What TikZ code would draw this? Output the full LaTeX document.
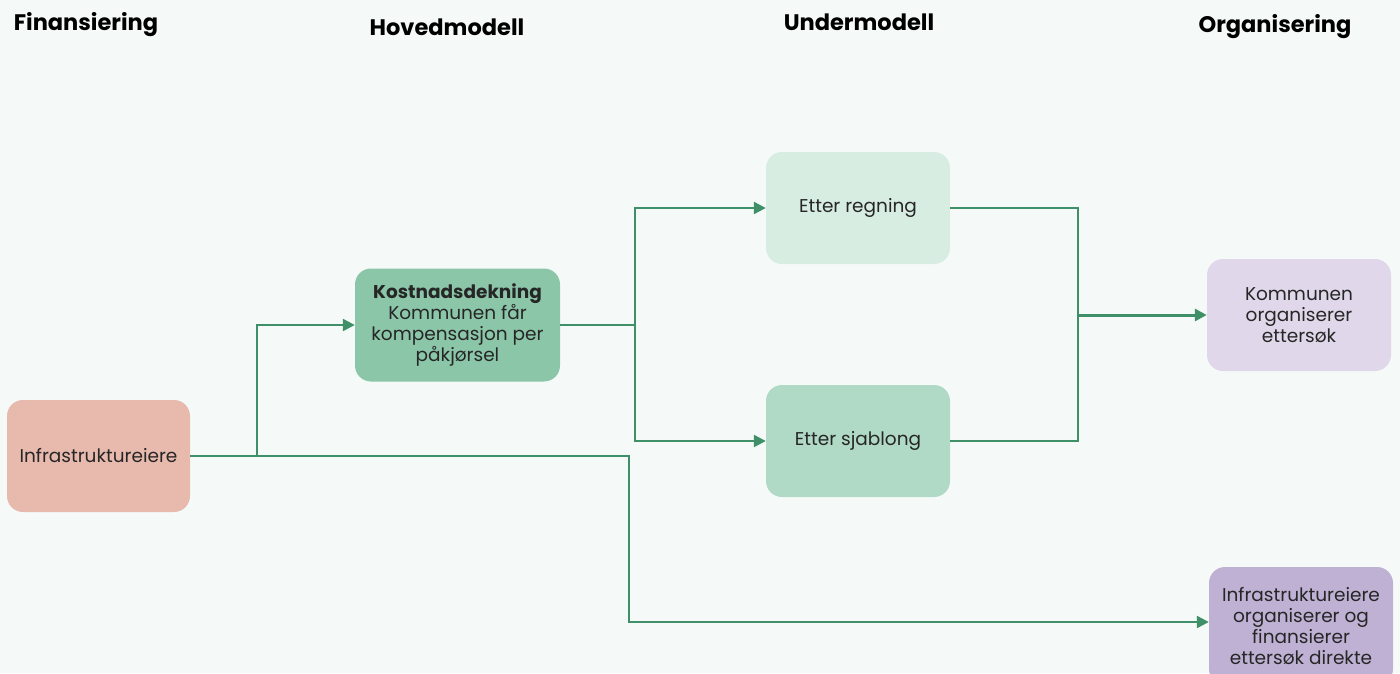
\documentclass[tikz,border=0pt]{standalone}
\usepackage{fontspec}
\setmainfont{Poppins}
\usetikzlibrary{arrows.meta}
\definecolor{bg}{HTML}{F5FAF8}
\definecolor{link}{HTML}{3F9068}
\definecolor{infra}{HTML}{E8B9AD}
\definecolor{hoved}{HTML}{8BC6A9}
\definecolor{regning}{HTML}{D8EDE2}
\definecolor{sjablong}{HTML}{B0DAC6}
\definecolor{kommune}{HTML}{E0D8EA}
\definecolor{eier}{HTML}{BFB1D4}
\definecolor{ink}{HTML}{262626}
\tikzset{
  box/.style={rectangle, rounded corners=16pt, draw=none, align=center,
    minimum width=184pt, minimum height=112pt, text=ink,
    font=\fontsize{18.5}{21}\selectfont, inner sep=2pt},
  heading/.style={font=\fontsize{22.5}{26}\selectfont\bfseries, text=black},
  flow/.style={draw=link, line width=2.3pt, -{Triangle[length=12pt,width=12pt]}},
  plain/.style={draw=link, line width=2.3pt}
}
\begin{document}
\begin{tikzpicture}[x=1pt, y=-1pt]
\fill[bg] (0,0) rectangle (1400,673);
\useasboundingbox (0,0) rectangle (1400,673);

% column headings
\node[heading] (hfin) at (86,25) {Finansiering};
\node[heading] (hhov) at (447,27) {Hovedmodell};
\node[heading] (hund) at (859,22) {Undermodell};
\node[heading] (horg) at (1275,27) {Organisering};

% boxes
\node[box, fill=infra, minimum width=183pt] (infra) at (98.5,456) {Infrastruktureiere};
\node[box, fill=hoved, minimum width=205pt, minimum height=113pt] (hoved) at (457.5,325)
  {\textbf{Kostnadsdekning}\\Kommunen får\\kompensasjon per\\påkjørsel};
\node[box, fill=regning] (regning) at (858,208) {Etter regning};
\node[box, fill=sjablong] (sjablong) at (858,441) {Etter sjablong};
\node[box, fill=kommune] (kommune) at (1299,315) {Kommunen\\organiserer\\ettersøk};
\node[box, fill=eier, minimum height=118pt] (eier) at (1301,626)
  {Infrastruktureiere\\organiserer og\\finansierer\\ettersøk direkte};

% junction points
\coordinate (j1) at (257,456);
\coordinate (j2) at (635,325);
\coordinate (j3) at (1078,315);
\coordinate (j4) at (629,622);

% connectors
\draw[flow] (infra.east) -- (j1) |- (hoved.west);
\draw[flow] (infra.east) -| (j4) -- (eier.west |- j4);
\draw[plain] (hoved.east) -- (j2);
\draw[flow] (j2) |- (regning.west);
\draw[flow] (j2) |- (sjablong.west);
\draw[plain] (regning.east) -| (j3);
\draw[plain] (sjablong.east) -| (j3);
\draw[flow, line width=3pt] (j3) -- (kommune.west);
\end{tikzpicture}
\end{document}
